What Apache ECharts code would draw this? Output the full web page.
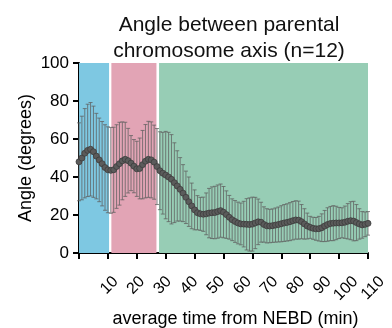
<!DOCTYPE html>
<html>
<head>
<meta charset="utf-8">
<script src="https://cdn.jsdelivr.net/npm/echarts@6/dist/echarts.min.js"></script>
<style>
  html, body { margin: 0; padding: 0; background: #fff; }
  #chart { width: 392px; height: 328px; }
</style>
</head>
<body>
<div id="chart"></div>
<script>
// mean angle per sample (one sample per frame step, 0..100)
var meanAngle = [
  48, 50, 52.5, 54, 54.6, 53.3, 51, 49, 47, 45,
  43.8, 43.5, 43.8, 45.5, 47, 48.5, 49.3, 48.6, 47.3, 45.7,
  44.3, 44.5, 46.5, 48.3, 49.3, 49, 47.8, 45.5, 43.3, 42,
  41, 40, 38.8, 37, 35.3, 33.5, 31.5, 29.3, 27, 24.8,
  22.7, 21.2, 20.6, 20.4, 20.6, 21, 21.2, 21.3, 21.8, 22.3,
  21.5, 20.2, 18.8, 17.5, 16.6, 15.8, 15.3, 15.2, 15.1, 15,
  15.2, 15.8, 16.4, 16.2, 15, 14.3, 14.2, 14.4, 14.7, 15,
  15.4, 15.8, 16.1, 16.5, 17, 17.4, 17.3, 16.5, 15.3, 14.2,
  13.5, 13, 12.7, 12.8, 13.3, 14.2, 15, 15.5, 15.7, 15.8,
  15.8, 15.9, 16.2, 16.7, 17, 16.8, 16, 15.3, 14.8, 15.1,
  15.6
];
// standard deviation per sample
var sdAngle = [
  20.5, 22, 23.5, 24.3, 24.6, 24, 22.5, 22, 22.2, 22.5,
  22.6, 22.6, 22.4, 22, 21.8, 20.5, 19.5, 17, 14.5, 14,
  14.5, 16, 18, 19.3, 20, 20, 19.5, 20, 20.5, 21.5,
  23, 23.5, 23.5, 21, 18.5, 16.7, 15, 13.8, 13, 12,
  10.5, 9, 8.7, 9, 11, 13, 13.6, 13.8, 14, 14,
  13.5, 12.5, 11.5, 11, 11, 11, 11, 12, 13.5, 14,
  14.2, 13.5, 12, 10.5, 9.3, 9, 8.8, 8.8, 9, 9.2,
  9.5, 9.7, 9.8, 10, 10.1, 10.1, 10, 9, 8, 6.8,
  5.8, 5.8, 6, 6.5, 7.3, 8.2, 8.8, 9, 9.2, 8.8,
  8.2, 7.9, 8.5, 9.3, 10, 10.4, 9.5, 8, 7, 6.5,
  6.2
];
// shaded phases (in sample units)
var phaseStart = [0, 11.2, 27.7];
var phaseEnd = [10.4, 26.8, 100];
var xTickLabels = [10, 20, 30, 40, 50, 60, 70, 80, 90, 100, 110];
var yTicks = [0, 20, 40, 60, 80, 100];

var font = 'Liberation Sans, Arial, sans-serif';
var phaseColors = ['#7ec8e2', '#e2a4b5', '#97cdb5'];

var chart = echarts.init(document.getElementById('chart'));

var meanData = meanAngle.map(function (v, i) { return [i, v]; });
var barData = meanAngle.map(function (v, i) { return [i, v - sdAngle[i], v + sdAngle[i]]; });
var areas = phaseStart.map(function (s, i) {
  return [{ xAxis: s, yAxis: 0, itemStyle: { color: phaseColors[i] } }, { xAxis: phaseEnd[i], yAxis: 100 }];
});

function renderBar(params, api) {
  var x = api.value(0);
  var lo = api.coord([x, api.value(1)]);
  var hi = api.coord([x, api.value(2)]);
  var cap = 2;
  var st = { stroke: '#5f5f5f', lineWidth: 0.9, opacity: 0.85 };
  return {
    type: 'group',
    children: [
      { type: 'line', shape: { x1: lo[0], y1: lo[1], x2: hi[0], y2: hi[1] }, style: st },
      { type: 'line', shape: { x1: hi[0] - cap, y1: hi[1], x2: hi[0] + cap, y2: hi[1] }, style: st },
      { type: 'line', shape: { x1: lo[0] - cap, y1: lo[1], x2: lo[0] + cap, y2: lo[1] }, style: st }
    ]
  };
}

var option = {
  animation: false,
  title: {
    text: 'Angle between parental\nchromosome axis (n=12)',
    left: 224,
    top: 7,
    textAlign: 'center',
    textStyle: { fontFamily: font, fontSize: 21, fontWeight: 'normal', color: '#111', lineHeight: 26 }
  },
  grid: [
    { left: 79, top: 63, width: 289, height: 190, outerBoundsMode: 'none' },
    { left: 89, top: 63, width: 293, height: 190, outerBoundsMode: 'none' }
  ],
  xAxis: [
    {
      type: 'value', gridIndex: 0, min: 0, max: 100, interval: 10,
      axisLine: { lineStyle: { color: '#000', width: 2 } },
      axisTick: { show: true, length: 6, lineStyle: { color: '#000', width: 2 } },
      axisLabel: { show: false },
      splitLine: { show: false }
    },
    {
      type: 'value', gridIndex: 1, min: 0, max: 110, interval: 10,
      position: 'bottom',
      axisLine: { show: false, onZero: false },
      axisTick: { show: false },
      splitLine: { show: false },
      axisLabel: {
        rotate: 45, margin: 26, fontSize: 16, color: '#000', fontFamily: font,
        formatter: function (v) { return xTickLabels.indexOf(v) >= 0 ? String(v) : ''; }
      },
      name: 'average time from NEBD (min)',
      nameLocation: 'middle',
      nameGap: 57,
      nameMoveOverlap: false,
      nameTextStyle: { fontFamily: font, fontSize: 18, color: '#000' }
    }
  ],
  yAxis: [
    {
      type: 'value', gridIndex: 0, min: 0, max: 100, interval: 20,
      axisLine: { show: true, lineStyle: { color: '#000', width: 2 } },
      axisTick: { show: true, length: 6, lineStyle: { color: '#000', width: 2 } },
      axisLabel: {
        margin: 10, fontSize: 17, color: '#000', fontFamily: font,
        formatter: function (v) { return yTicks.indexOf(v) >= 0 ? String(v) : ''; }
      },
      splitLine: { show: false },
      name: 'Angle (degrees)',
      nameLocation: 'middle',
      nameGap: 44,
      nameMoveOverlap: false,
      nameTextStyle: { fontFamily: font, fontSize: 18, color: '#000' }
    },
    { type: 'value', gridIndex: 1, min: 0, max: 100, show: false }
  ],
  series: [
    {
      type: 'line', xAxisIndex: 0, yAxisIndex: 0, data: [], z: 1,
      markArea: { silent: true, itemStyle: { opacity: 1 }, data: areas }
    },
    {
      type: 'custom', xAxisIndex: 0, yAxisIndex: 0, z: 2,
      renderItem: renderBar,
      encode: { x: 0, y: [1, 2] },
      data: barData
    },
    {
      type: 'line', xAxisIndex: 0, yAxisIndex: 0, z: 3,
      data: meanData,
      symbol: 'circle', symbolSize: 6, showSymbol: true,
      itemStyle: { color: '#5b5b5b', borderColor: '#3c3c3c', borderWidth: 0.8 },
      lineStyle: { color: '#555', width: 3 }
    }
  ]
};

chart.setOption(option);
</script>
</body>
</html>
